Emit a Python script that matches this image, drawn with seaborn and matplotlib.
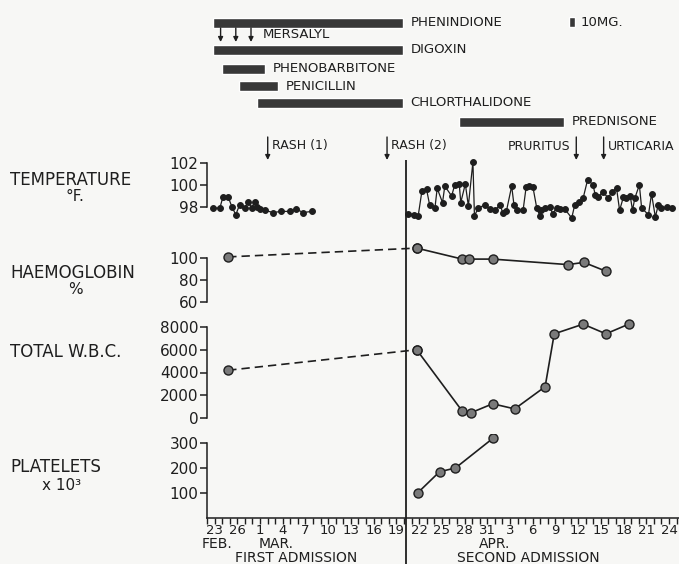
import matplotlib.pyplot as plt
import seaborn as sns

# canvas and day scale (day 0 = 23 Feb, 7.6 px per day)
W, H = 679, 564
X0_PX, PX_PER_DAY = 213, 7.6
AX_LEFT_PX = 207
INK = "#1e1e1e"
PAPER = "#f7f7f5"

# x axis
tick_days = list(range(0, 61, 3))
tick_labels = ["23", "26", "1", "4", "7", "10", "13", "16", "19", "22", "25",
               "28", "31", "3", "6", "9", "12", "15", "18", "21", "24"]
split_day = 25.4  # between first and second admission

# drug courses (days)
drugs = ["PHENINDIONE", "DIGOXIN", "PHENOBARBITONE", "PENICILLIN",
         "CHLORTHALIDONE", "PREDNISONE"]
drug_start = [0, 0, 1.2, 3.4, 5.8, 32.4]
drug_end = [25, 25, 6.8, 8.6, 25, 46.2]
mersalyl_days = [1, 3, 5]

# clinical events
events = ["RASH (1)", "RASH (2)", "PRURITUS", "URTICARIA"]
event_days = [7.2, 22.9, 47.8, 51.4]

# temperature (deg F)
temp1_days = [0, 0.9, 1.3, 2.0, 2.5, 3.0, 3.5, 4.2, 4.6, 5.1, 5.5, 5.8, 6.2,
              6.8, 7.9, 9.0, 10.1, 10.9, 11.9, 13.0]
temp1 = [97.9, 97.9, 98.9, 98.9, 98.0, 97.3, 98.2, 97.9, 98.5, 97.9, 98.5,
         98.0, 97.8, 97.7, 97.5, 97.6, 97.6, 97.8, 97.5, 97.6]
temp2_days = [25.6, 26.4, 27.0, 27.5, 28.1, 28.5, 29.2, 29.5, 30.2, 30.5,
              31.4, 31.8, 32.4, 32.6, 33.2, 33.6, 34.2, 34.4, 34.9, 35.8,
              36.4, 37.1, 37.8, 38.1, 38.6, 39.3, 39.6, 40.0, 40.8, 41.2,
              41.6, 42.1, 42.6, 43.0, 43.2, 43.7, 44.3, 44.7, 45.2, 45.7,
              46.3, 47.2, 47.6, 48.2, 48.7, 49.3, 50.0, 50.3, 50.7, 51.3,
              52.0, 52.5, 53.1, 53.5, 54.0, 54.4, 54.9, 55.2, 55.5, 56.1,
              56.4, 57.3, 57.7, 58.2, 58.6, 59.0, 59.8, 60.4]
temp2 = [97.4, 97.3, 97.2, 99.5, 99.6, 98.2, 97.9, 99.7, 98.4, 99.9,
         99.0, 100.0, 100.1, 98.4, 100.1, 98.1, 102.1, 97.2, 97.9, 98.2,
         97.8, 97.7, 98.2, 97.5, 97.6, 99.9, 98.2, 97.7, 97.7, 99.8,
         99.9, 99.8, 97.9, 97.2, 97.7, 97.9, 98.0, 97.4, 97.9, 97.8,
         97.8, 97.0, 98.2, 98.5, 98.8, 100.5, 100.0, 99.1, 98.9, 99.4,
         98.8, 99.4, 99.7, 97.7, 98.9, 98.8, 99.0, 97.7, 98.8, 100.0,
         97.9, 97.3, 99.2, 97.1, 98.2, 97.9, 98.0, 97.9]

# haemoglobin (%)
hb_days = [2.0, 26.8, 32.8, 33.7, 36.8, 46.7, 48.8, 51.7]
hb = [101, 109, 99, 99, 99, 94, 96, 88]

# total W.B.C.
wbc_days = [2.0, 26.8, 32.8, 33.9, 36.8, 39.7, 43.7, 44.9, 48.7, 51.7, 54.7]
wbc = [4200, 6000, 600, 450, 1250, 800, 2750, 7400, 8250, 7400, 8250]

# platelets (x 10^3)
plt_days = [26.8, 29.7, 31.8, 36.8]
platelets = [100, 185, 200, 320]

sns.set_theme(style="white")
plt.rcParams["font.family"] = ["DejaVu Sans"]
plt.rcParams["text.color"] = INK
plt.rcParams["axes.edgecolor"] = INK
plt.rcParams["xtick.color"] = INK
plt.rcParams["ytick.color"] = INK

fig = plt.figure(figsize=(W / 100, H / 100), dpi=100, facecolor=PAPER)
xlim = ((AX_LEFT_PX - X0_PX) / PX_PER_DAY, (W - X0_PX) / PX_PER_DAY)


def panel(v0, p0, v1, p1, lo, hi, ticks, labels):
    # place an axes so that value v0 sits at pixel row p0 and v1 at p1
    k = (p0 - p1) / (v1 - v0)
    top = p1 - (hi - v1) * k
    bot = p0 + (v0 - lo) * k
    ax = fig.add_axes([AX_LEFT_PX / W, 1 - bot / H, 1 - AX_LEFT_PX / W, (bot - top) / H])
    ax.set_xlim(xlim)
    ax.set_ylim(lo, hi)
    ax.patch.set_alpha(0)
    for s in ["top", "right", "bottom"]:
        ax.spines[s].set_visible(False)
    ax.spines["left"].set_linewidth(1.1)
    ax.set_yticks(ticks)
    ax.set_yticklabels(labels)
    ax.tick_params(axis="y", direction="out", length=5, width=1.1, labelsize=11, pad=1, left=True)
    ax.set_xticks([])
    ax.set_xlabel("")
    ax.set_ylabel("")
    return ax


small = dict(marker="o", markersize=4.2, color=INK, markeredgecolor=INK, linewidth=0.9,
             estimator=None)
big = dict(marker="o", markersize=6.5, color=INK, markerfacecolor="#7a7a7a",
           markeredgecolor=INK, markeredgewidth=1.0, linewidth=1.2, estimator=None)

# temperature
ax_t = panel(98, 207, 102, 163, 96.6, 102.6, [98, 100, 102], ["98", "100", "102"])
sns.lineplot(x=temp1_days, y=temp1, ax=ax_t, **small)
sns.lineplot(x=temp2_days, y=temp2, ax=ax_t, **small)
ax_t.spines["left"].set_bounds(98, 102)
ax_t.set_xlim(xlim)

# haemoglobin
ax_h = panel(60, 302, 100, 258, 55, 115, [60, 80, 100], ["60", "80", "100"])
sns.lineplot(x=hb_days[:2], y=hb[:2], ax=ax_h, linestyle=(0, (5, 3)), **big)
sns.lineplot(x=hb_days[1:], y=hb[1:], ax=ax_h, **big)
ax_h.spines["left"].set_bounds(60, 100)
ax_h.set_xlim(xlim)

# total W.B.C.
ax_w = panel(0, 418, 8000, 327, -600, 9200, [0, 2000, 4000, 6000, 8000],
             ["0", "2000", "4000", "6000", "8000"])
sns.lineplot(x=wbc_days[:2], y=wbc[:2], ax=ax_w, linestyle=(0, (5, 3)), **big)
sns.lineplot(x=wbc_days[1:], y=wbc[1:], ax=ax_w, **big)
ax_w.spines["left"].set_bounds(0, 8000)
ax_w.set_xlim(xlim)

# platelets, carries the date axis
ax_p = panel(0, 518, 300, 443, 0, 335, [100, 200, 300], ["100", "200", "300"])
sns.lineplot(x=plt_days, y=platelets, ax=ax_p, **big)
ax_p.spines["left"].set_bounds(0, 300)
ax_p.spines["bottom"].set_visible(True)
ax_p.spines["bottom"].set_linewidth(1.1)
ax_p.set_xlim(xlim)
ax_p.set_xticks(tick_days)
ax_p.set_xticklabels(tick_labels)
ax_p.set_xticks(range(-1, 62), minor=True)
ax_p.tick_params(axis="x", which="both", direction="out", length=4, width=1,
                 labelsize=9.5, pad=0.5, bottom=True)
ax_p.set_xlabel("")
ax_p.set_ylabel("")

# overlay in pixel rows for the drug chart, events and the admission divider
ov = fig.add_axes([AX_LEFT_PX / W, 0, 1 - AX_LEFT_PX / W, 1])
ov.set_xlim(xlim)
ov.set_ylim(H, 0)
ov.axis("off")
ov.patch.set_alpha(0)

drug_rows = [22.5, 49.5, 69, 86, 103, 121.5]
widths = [e - s for s, e in zip(drug_start, drug_end)]
ov.barh(drug_rows, widths, left=drug_start, height=10, color="#383838")
for name, row, end in zip(drugs, drug_rows, drug_end):
    ov.text(end + 1.0, row, name, fontsize=9.5, va="center", ha="left")

arrow = dict(arrowstyle="-|>", color=INK, lw=1.0, mutation_scale=7, shrinkA=0, shrinkB=0)
for d in mersalyl_days:
    ov.annotate("", xy=(d, 42), xytext=(d, 28), arrowprops=arrow)
ov.text(6.6, 34.5, "MERSALYL", fontsize=9.5, va="center", ha="left")

ov.barh([22], [0.8], left=[46.8], height=10, color="#383838")
ov.text(48.3, 22, "10MG.", fontsize=9.5, va="center", ha="left")

for name, d in zip(events, event_days):
    ov.annotate("", xy=(d, 160), xytext=(d, 137), arrowprops=arrow)
    if name == "PRURITUS":
        ov.text(d - 0.8, 146, name, fontsize=9, va="center", ha="right")
    else:
        ov.text(d + 0.5, 146, name, fontsize=9, va="center", ha="left")

ov.vlines(split_day, 160, H, color=INK, lw=1.3)


def ftext(px, py, s, ha="left", size=12):
    fig.text(px / W, 1 - py / H, s, ha=ha, va="center", fontsize=size)


ftext(10, 180, "TEMPERATURE")
ftext(75, 197, "°F.", ha="center", size=11)
ftext(10, 273, "HAEMOGLOBIN")
ftext(75, 290, "%", ha="center", size=11)
ftext(10, 352, "TOTAL W.B.C.")
ftext(10, 467, "PLATELETS")
ftext(62, 486, "x 10³", ha="center", size=11)

ftext(217, 543.5, "FEB.", ha="center", size=10)
ftext(276, 543.5, "MAR.", ha="center", size=10)
ftext(495, 543.5, "APR.", ha="center", size=10)
ftext(296, 557.5, "FIRST ADMISSION", ha="center", size=10)
ftext(528, 557.5, "SECOND ADMISSION", ha="center", size=10)

fig.savefig("out.png", dpi=100, facecolor=PAPER)
